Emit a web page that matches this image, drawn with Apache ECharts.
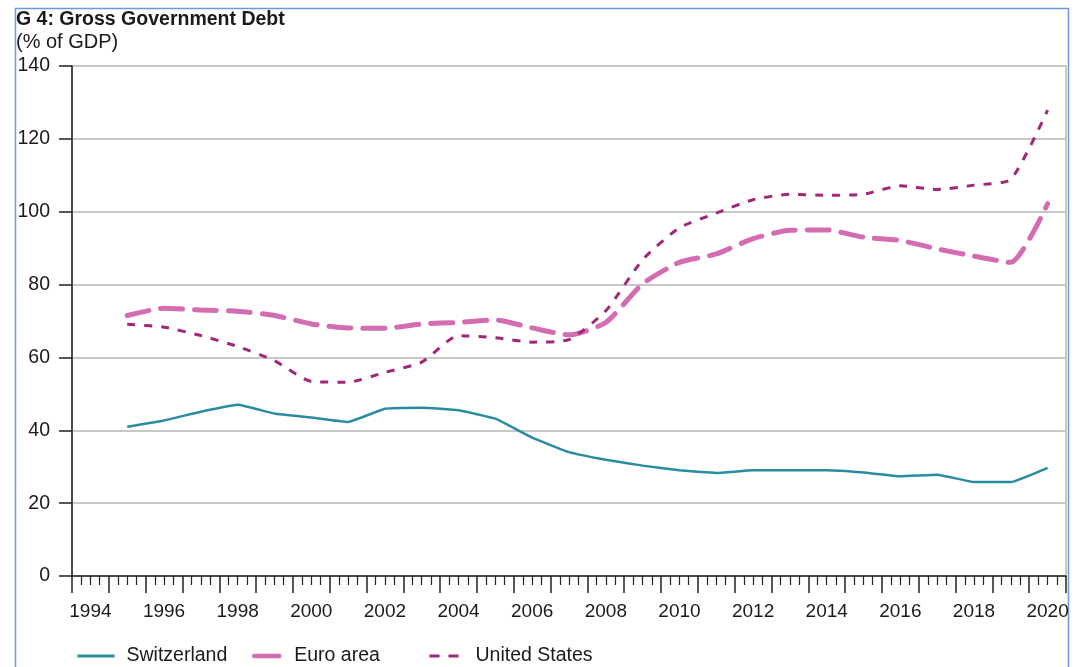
<!DOCTYPE html>
<html>
<head>
<meta charset="utf-8">
<script src="https://cdn.jsdelivr.net/npm/echarts@6/dist/echarts.min.js"></script>
<style>
  html, body { margin: 0; padding: 0; background: #fff; }
  #chart { width: 1084px; height: 667px; }
</style>
</head>
<body>
<div id="chart"></div>
<script>
// years of the data points (drawn at mid-year)
const years = [1995, 1996, 1997, 1998, 1999, 2000, 2001, 2002, 2003, 2004, 2005, 2006, 2007,
  2008, 2009, 2010, 2011, 2012, 2013, 2014, 2015, 2016, 2017, 2018, 2019, 2020]
// year labels on the x axis
const labelYears = ['1994', '1995', '1996', '1997', '1998', '1999', '2000', '2001', '2002', '2003',
  '2004', '2005', '2006', '2007', '2008', '2009', '2010', '2011', '2012', '2013', '2014', '2015',
  '2016', '2017', '2018', '2019', '2020']
const switzerland = [41.0, 42.7, 45.1, 47.0, 44.6, 43.5, 42.3, 45.9, 46.2, 45.5, 43.2, 38.0, 34.0,
  31.9, 30.3, 29.0, 28.3, 29.0, 29.0, 29.0, 28.4, 27.4, 27.8, 25.8, 25.8, 29.7]
const euroArea = [71.5, 73.5, 73.0, 72.7, 71.5, 69.2, 68.1, 68.0, 69.2, 69.6, 70.3, 68.1, 66.2,
  69.6, 80.2, 86.1, 88.4, 92.6, 94.9, 95.0, 93.0, 92.1, 89.8, 87.8, 86.1, 102.2]
const unitedStates = [69.1, 68.3, 66.0, 63.0, 59.1, 53.4, 53.2, 55.9, 58.7, 66.0, 65.4, 64.2, 64.9,
  72.8, 86.8, 95.6, 99.6, 103.3, 104.8, 104.5, 104.8, 107.1, 106.1, 107.3, 108.9, 127.9]

const toPoints = (vals) => vals.map((v, i) => [years[i] + 0.5, v])

const chart = echarts.init(document.getElementById('chart'))
const textColor = '#1a1a1a'
const font = 'Liberation Sans, Arial, sans-serif'

// one legend per series so each key can have its own length
function makeLegend (name, left, width, lineStyle, textGap) {
  return {
    left: left,
    top: 646,
    padding: 0,
    itemWidth: width,
    itemHeight: 14,
    data: [name],
    itemStyle: { opacity: 0 },
    lineStyle: lineStyle,
    textStyle: { fontSize: 19.5, color: textColor, fontFamily: font, padding: [0, 0, 0, textGap] }
  }
}

const option = {
  animation: false,
  textStyle: { fontFamily: font },
  title: {
    left: 16,
    top: 10,
    padding: 0,
    itemGap: 2,
    text: 'G 4: Gross Government Debt',
    subtext: '(% of GDP)',
    textStyle: { fontSize: 19.5, fontWeight: 'bold', color: textColor, lineHeight: 20, fontFamily: font },
    subtextStyle: { fontSize: 20, color: textColor, lineHeight: 20, fontFamily: font }
  },
  graphic: [{
    type: 'rect',
    shape: { x: 15.5, y: 8.5, width: 1053, height: 700 },
    style: { fill: 'none', stroke: '#6a9bd8', lineWidth: 1.5 },
    silent: true
  }],
  legend: [
    makeLegend('Switzerland', 76, 37, { width: 3, type: 'solid' }, 7),
    makeLegend('Euro area', 252, 25, { width: 4.5, type: 'solid', cap: 'round' }, 10),
    makeLegend('United States', 428, 29, { width: 3, type: [10, 9] }, 12)
  ],
  grid: {
    left: 72,
    right: 18,
    top: 66,
    bottom: 91,
    show: true,
    borderColor: '#c8c8c8',
    borderWidth: 2
  },
  xAxis: [{
    type: 'value',
    min: 1994,
    max: 2021,
    interval: 1,
    axisLine: { show: true, onZero: false, lineStyle: { color: '#222', width: 1.5 } },
    axisTick: { show: true, length: 17, lineStyle: { color: '#222', width: 1.5 } },
    minorTick: { show: true, splitNumber: 4, length: 9, lineStyle: { color: '#222', width: 1.2 } },
    axisLabel: { show: false },
    splitLine: { show: false }
  }, {
    type: 'category',
    position: 'bottom',
    data: labelYears,
    boundaryGap: true,
    axisLine: { show: false },
    axisTick: { show: false },
    axisLabel: { interval: 1, margin: 26, fontSize: 19, color: textColor, fontFamily: font },
    splitLine: { show: false }
  }],
  yAxis: {
    type: 'value',
    min: 0,
    max: 140,
    interval: 20,
    axisLine: { show: true, lineStyle: { color: '#222', width: 1.5 } },
    axisTick: { show: true, length: 13, lineStyle: { color: '#222', width: 1.5 } },
    axisLabel: { margin: 22, fontSize: 19.5, color: textColor, fontFamily: font },
    splitLine: { show: true, lineStyle: { color: '#c8c8c8', width: 2 } }
  },
  series: [{
    name: 'Switzerland',
    type: 'line',
    xAxisIndex: 0,
    symbol: 'none',
    smooth: 0.1,
    color: '#2a8c9f',
    lineStyle: { width: 2.5, color: '#2a8c9f' },
    data: toPoints(switzerland)
  }, {
    name: 'Euro area',
    type: 'line',
    xAxisIndex: 0,
    symbol: 'none',
    smooth: 0.2,
    color: '#d46cb2',
    lineStyle: { width: 5, color: '#d46cb2', type: [22, 12], cap: 'round' },
    data: toPoints(euroArea)
  }, {
    name: 'United States',
    type: 'line',
    xAxisIndex: 0,
    symbol: 'none',
    smooth: 0.2,
    color: '#a02878',
    lineStyle: { width: 3, color: '#a02878', type: [8, 9] },
    data: toPoints(unitedStates)
  }]
}
chart.setOption(option)
window.onresize = () => chart.resize()
</script>
</body>
</html>
